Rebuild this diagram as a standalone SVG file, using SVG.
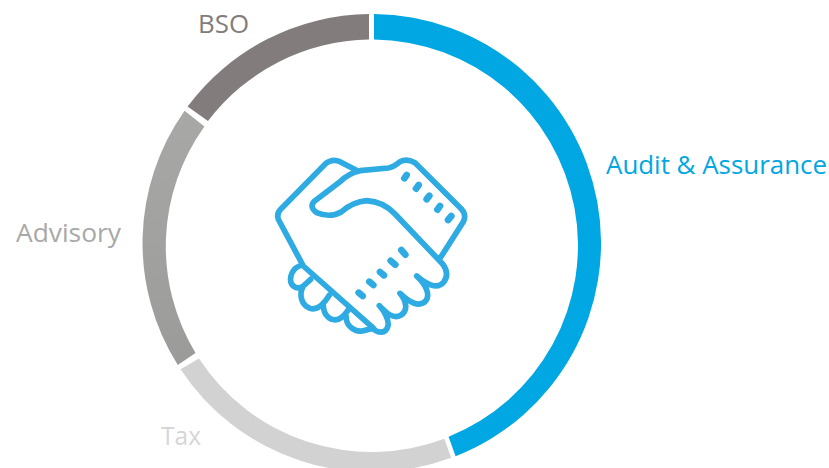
<svg xmlns="http://www.w3.org/2000/svg" width="829" height="468" viewBox="0 0 829 468">
<style>
.t{font-family:"Open Sans","Noto Sans","Liberation Sans",sans-serif;font-size:26px}
.h{fill:none;stroke:#2dabe2;stroke-width:17;stroke-linecap:round;stroke-linejoin:round}
.d{fill:none;stroke:#2dabe2;stroke-width:20;stroke-linecap:round}
</style>
<defs><linearGradient id="adv" x1="0" y1="0" x2="0" y2="1"><stop offset="0" stop-color="#a8a8a6"/><stop offset="1" stop-color="#9b9b99"/></linearGradient></defs>
<rect width="829" height="468" fill="#fff"/>
<g id="connectors"></g>
<g id="audit">
<path d="M374 14A229 229 0 0 1 455.600 456.200L448.600 436.700A206 206 0 0 0 374 39.500Z" fill="#00a7e3"/>
<text class="t" x="606" y="174" fill="#00a7e3" textLength="221" lengthAdjust="spacingAndGlyphs">Audit &amp; Assurance</text>
</g>
<g id="tax">
<path d="M180.500 369.300A229 229 0 0 0 451.200 457.700L444.300 438.800A206 206 0 0 1 199 358.500Z" fill="#d2d2d2"/>
<text class="t" x="161" y="445" fill="#d6d6d6" textLength="40" lengthAdjust="spacingAndGlyphs">Tax</text>
</g>
<g id="advisory">
<path d="M184.600 110.700A229 229 0 0 0 177.800 365.100L195.500 353A206 206 0 0 1 204.400 126.400Z" fill="url(#adv)"/>
<text class="t" x="16" y="242" fill="#a8a8a8" textLength="105" lengthAdjust="spacingAndGlyphs">Advisory</text>
</g>
<g id="bso">
<path d="M187.600 106.600A229 229 0 0 1 369 14V39.500A206 206 0 0 0 208 121.100Z" fill="#827d7c"/>
<text class="t" x="198" y="33" fill="#827d7c" textLength="51" lengthAdjust="spacingAndGlyphs">BSO</text>
</g>
<g id="handshake" transform="translate(260 140) scale(.33333)">
<path class="h" d="M288 90L240 65Q218 55 198 70L62 208Q48 222 56 240L130 378L335 560"/>
<path class="h" d="M335 560C350 582 378 582 384 558C388 540 372 512 358 497C380 520 400 538 422 526C445 512 440 485 420 460C445 485 478 505 498 482C512 462 495 430 470 408C495 430 530 450 550 428C566 408 560 388 548 372L405 222Q370 185 320 182Q280 185 245 215Q210 235 170 218Q145 200 165 182L240 125Q265 100 300 92L385 84Q400 82 420 65Q440 55 465 68L605 208Q620 225 610 245L540 355"/>
<path class="h" d="M118 378C90 390 85 425 100 438C110 446 120 445 130 438L152 418M130 438C115 465 125 495 150 505C170 512 190 495 208 466M190 495C190 525 210 545 235 538C248 533 258 520 268 505M258 528C258 560 285 578 310 572C320 570 330 566 340 565"/>
<path class="d" d="M433 115L440 105M468 146L476 135M500 178L508 167M532 209L540 198M564 240L574 228M296 458L308 468M328 425L340 435M360 396L372 406M392 362L406 374M424 330L436 344"/>
</g>
</svg>
